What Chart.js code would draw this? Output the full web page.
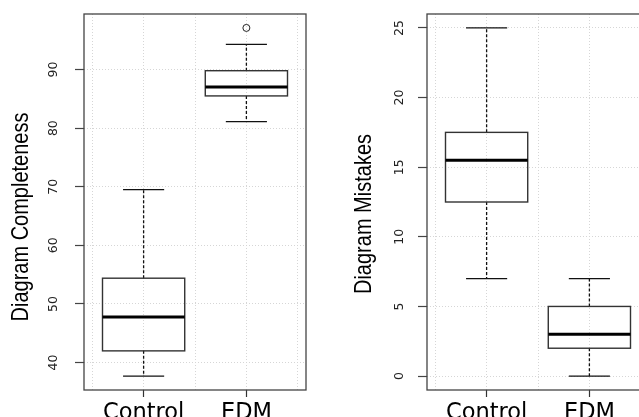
<!DOCTYPE html>
<html><head><meta charset="utf-8">
<script src="https://cdn.jsdelivr.net/npm/chart.js@4/dist/chart.umd.min.js"></script>
<style>
html,body{margin:0;padding:0;background:#fff;overflow:hidden;width:639px;height:417px;}
#c1{position:absolute;left:0;top:0;}
#c2{position:absolute;left:320px;top:0;}
</style></head><body>
<canvas id="c1" width="320" height="417"></canvas>
<canvas id="c2" width="340" height="417"></canvas>
<script>
const categories = ['Control', 'EDM'];

// Diagram Completeness (box-plot statistics per category)
const compLowWhisker  = [37.7, 81.1];
const compQ1          = [42.0, 85.5];
const compMedian      = [47.8, 87.0];
const compQ3          = [54.4, 89.8];
const compHighWhisker = [69.5, 94.3];
const compOutliers    = [[], [97.1]];
const compTicks       = [40, 50, 60, 70, 80, 90];

// Diagram Mistakes
const mistLowWhisker  = [7, 0];
const mistQ1          = [12.5, 2];
const mistMedian      = [15.5, 3];
const mistQ3          = [17.5, 5];
const mistHighWhisker = [25, 7];
const mistOutliers    = [[], []];
const mistTicks       = [0, 5, 10, 15, 20, 25];

const boxPlugin = {
  id: 'boxes',
  beforeDatasetsDraw(chart) {
    const o = chart.options.plugins.boxes;
    const s = o.stats;
    const xs = chart.scales.x, ys = chart.scales.y, ctx = chart.ctx;
    const line = (x1, y1, x2, y2) => { ctx.beginPath(); ctx.moveTo(x1, y1); ctx.lineTo(x2, y2); ctx.stroke(); };
    ctx.save();
    for (let i = 0; i < categories.length; i++) {
      const c = i + 1;
      const xl = xs.getPixelForValue(c - 0.4), xr = xs.getPixelForValue(c + 0.4);
      const cl = xs.getPixelForValue(c - 0.2), cr = xs.getPixelForValue(c + 0.2);
      const xc = xs.getPixelForValue(c);
      const yLo = ys.getPixelForValue(s.lo[i]), yQ1 = ys.getPixelForValue(s.q1[i]);
      const yMed = ys.getPixelForValue(s.med[i]), yQ3 = ys.getPixelForValue(s.q3[i]);
      const yHi = ys.getPixelForValue(s.hi[i]);
      ctx.strokeStyle = '#111'; ctx.lineWidth = 1.3; ctx.setLineDash([3, 2]);
      line(xc, yQ1, xc, yLo); line(xc, yQ3, xc, yHi);
      ctx.setLineDash([]);
      ctx.lineWidth = 1.3;
      line(cl, yLo, cr, yLo); line(cl, yHi, cr, yHi);
      ctx.strokeStyle = '#333'; ctx.lineWidth = 1.4;
      ctx.strokeRect(xl, yQ3, xr - xl, yQ1 - yQ3);
      ctx.strokeStyle = '#000'; ctx.lineWidth = 3;
      line(xl, yMed, xr, yMed);
    }
    ctx.restore();
  },
  afterDraw(chart) {
    const o = chart.options.plugins.boxes;
    const a = chart.chartArea, ctx = chart.ctx;
    ctx.save();
    ctx.strokeStyle = '#444'; ctx.lineWidth = 1.3;
    ctx.strokeRect(a.left, a.top, a.right - a.left, a.bottom - a.top);
    ctx.translate(a.left + o.titleDx, (a.top + a.bottom) / 2 + o.titleDy);
    ctx.rotate(-Math.PI / 2);
    ctx.scale(1, 1.17);
    ctx.font = '20px "Liberation Sans", Arial, sans-serif';
    ctx.fillStyle = '#000';
    ctx.textAlign = 'center';
    ctx.textBaseline = 'alphabetic';
    ctx.fillText(o.title, 0, 0);
    ctx.restore();
  }
};

function makeChart(id, cfg) {
  const n = categories.length;
  const xMin = 0.5 - 0.04 * n, xMax = n + 0.5 + 0.04 * n;
  const allVals = cfg.lo.concat(cfg.hi, ...cfg.out);
  const dMin = Math.min(...allVals), dMax = Math.max(...allVals);
  const yMin = dMin - 0.04 * (dMax - dMin), yMax = dMax + 0.04 * (dMax - dMin);
  const gridPos = [];
  for (let i = 0; i <= n; i++) { gridPos.push(i + 0.5); if (i < n) gridPos.push(i + 1); }
  gridPos.sort((a, b) => a - b);
  const outPts = [];
  cfg.out.forEach((arr, i) => arr.forEach(v => outPts.push({ x: i + 1, y: v })));
  return new Chart(document.getElementById(id), {
    type: 'scatter',
    data: { datasets: [{
      data: outPts, pointStyle: 'circle', pointRadius: 3.5,
      borderColor: '#222', backgroundColor: 'rgba(0,0,0,0)', borderWidth: 1
    }] },
    plugins: [boxPlugin],
    options: {
      responsive: false, animation: false, devicePixelRatio: 1,
      layout: { padding: { left: 0, top: 14, right: cfg.padRight, bottom: 0 } },
      plugins: {
        legend: { display: false }, tooltip: { enabled: false },
        boxes: { stats: cfg, title: cfg.title, titleDx: cfg.titleDx, titleDy: cfg.titleDy }
      },
      scales: {
        x: {
          type: 'linear', min: xMin, max: xMax,
          afterBuildTicks: sc => { sc.ticks = gridPos.map(v => ({ value: v })); },
          ticks: {
            autoSkip: false, maxRotation: 0, minRotation: 0, padding: 3,
            callback: v => Number.isInteger(v) ? categories[v - 1] : '',
            font: { family: 'DejaVu Sans', size: 22.5 }, color: '#000'
          },
          grid: {
            color: '#d6d6d6', lineWidth: 1, tickLength: 7, tickWidth: 1.2,
            tickColor: c => (c.tick && Number.isInteger(c.tick.value)) ? '#333' : 'rgba(0,0,0,0)'
          },
          border: { display: false, dash: [1, 2] },
          afterFit: sc => { sc.height = 27; sc.paddingLeft = 0; sc.paddingRight = 0; }
        },
        y: {
          min: yMin, max: yMax,
          afterBuildTicks: sc => { sc.ticks = cfg.ticks.map(v => ({ value: v })); },
          ticks: {
            autoSkip: false, minRotation: 90, maxRotation: 90, crossAlign: 'center',
            padding: cfg.tickPad, font: { family: 'DejaVu Sans', size: 12.5 }, color: '#222'
          },
          grid: { color: '#d6d6d6', lineWidth: 1, tickLength: 9, tickWidth: 1.2, tickColor: '#444' },
          border: { display: false, dash: [1, 2] },
          afterFit: sc => { sc.width = cfg.yWidth; sc.paddingTop = 0; sc.paddingBottom = 0; }
        }
      }
    }
  });
}

makeChart('c1', {
  lo: compLowWhisker, q1: compQ1, med: compMedian, q3: compQ3, hi: compHighWhisker,
  out: compOutliers, ticks: compTicks, title: 'Diagram Completeness',
  yWidth: 84, padRight: 14, tickPad: 13, titleDx: -55.6, titleDy: 15
});
makeChart('c2', {
  lo: mistLowWhisker, q1: mistQ1, med: mistMedian, q3: mistQ3, hi: mistHighWhisker,
  out: mistOutliers, ticks: mistTicks, title: 'Diagram Mistakes',
  yWidth: 107, padRight: 11, tickPad: 10, titleDx: -55.6, titleDy: 12
});
</script>
</body></html>
